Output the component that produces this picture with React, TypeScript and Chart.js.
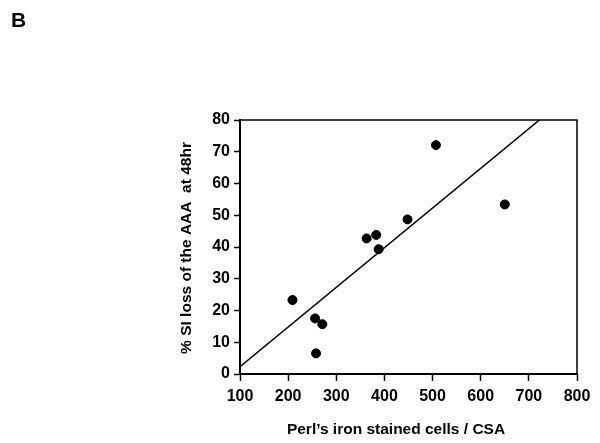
import React, { useEffect, useRef } from "react";
import { Chart, registerables } from "chart.js";

Chart.register(...registerables);

const ironCells = [209, 256, 271, 258, 363, 383, 388, 448, 507, 650];
const siLoss = [23.3, 17.5, 15.7, 6.5, 42.7, 43.8, 39.3, 48.7, 72.1, 53.4];
const fitX = [100, 722];
const fitY = [2.3, 80];
const xTicks = [100, 200, 300, 400, 500, 600, 700, 800];
const yTicks = [0, 10, 20, 30, 40, 50, 60, 70, 80];
const panelLabel = "B";
const xTitle = "Perl\u2019s iron stained cells / CSA";
const yTitle = "% SI loss of the AAA  at 48hr";

const FONT = "Arial, 'Liberation Sans', sans-serif";

const decor = {
  id: "decor",
  afterDraw(chart: any) {
    const { ctx, chartArea: a } = chart;
    ctx.save();
    ctx.strokeStyle = "#000";
    ctx.lineWidth = 1.5;
    ctx.beginPath();
    ctx.moveTo(a.left, a.top);
    ctx.lineTo(a.right, a.top);
    ctx.lineTo(a.right, a.bottom);
    ctx.stroke();
    ctx.fillStyle = "#000";
    ctx.font = `bold 21px ${FONT}`;
    ctx.textAlign = "left";
    ctx.textBaseline = "alphabetic";
    ctx.fillText(panelLabel, 11, 27);
    ctx.font = `bold 15.5px ${FONT}`;
    ctx.textAlign = "center";
    ctx.fillText(xTitle, 396, 434);
    ctx.translate(191, 248);
    ctx.rotate(-Math.PI / 2);
    ctx.fillText(yTitle, 0, 0);
    ctx.restore();
  },
};

export default function App() {
  const ref = useRef<HTMLCanvasElement>(null);
  useEffect(() => {
    if (!ref.current) return;
    const chart = new Chart(ref.current, {
      type: "scatter",
      data: {
        datasets: [
          {
            data: ironCells.map((x, i) => ({ x, y: siLoss[i] })),
            backgroundColor: "#000",
            borderColor: "#000",
            pointRadius: 4.5,
            showLine: false,
          },
          {
            data: fitX.map((x, i) => ({ x, y: fitY[i] })),
            borderColor: "#000",
            borderWidth: 1.6,
            pointRadius: 0,
            showLine: true,
            fill: false,
          },
        ],
      },
      plugins: [decor],
      options: {
        animation: false,
        responsive: false,
        layout: { padding: { left: 0, top: 120, right: 23, bottom: 0 } },
        plugins: { legend: { display: false }, tooltip: { enabled: false } },
        scales: {
          x: {
            type: "linear",
            min: 100,
            max: 800,
            afterBuildTicks: (s: any) => {
              s.ticks = xTicks.map((v) => ({ value: v }));
            },
            afterFit: (s: any) => {
              s.height = 69;
            },
            grid: { drawOnChartArea: false, drawTicks: true, tickLength: 7, tickColor: "#000", tickWidth: 1.5 },
            border: { color: "#000", width: 2 },
            ticks: { color: "#000", padding: 6, maxRotation: 0, font: { family: FONT, size: 16, weight: "bold" } },
          },
          y: {
            type: "linear",
            min: 0,
            max: 80,
            afterBuildTicks: (s: any) => {
              s.ticks = yTicks.map((v) => ({ value: v }));
            },
            afterFit: (s: any) => {
              s.width = 240;
            },
            grid: { drawOnChartArea: false, drawTicks: true, tickLength: 6, tickColor: "#000", tickWidth: 1.5 },
            border: { color: "#000", width: 2 },
            ticks: { color: "#000", padding: 4, font: { family: FONT, size: 16, weight: "bold" } },
          },
        },
      },
    } as any);
    return () => chart.destroy();
  }, []);
  return (
    <div style={{ position: "absolute", left: 0, top: 0, width: 600, height: 443, background: "#fff" }}>
      <canvas ref={ref} width={600} height={443} style={{ width: 600, height: 443 }} />
    </div>
  );
}
